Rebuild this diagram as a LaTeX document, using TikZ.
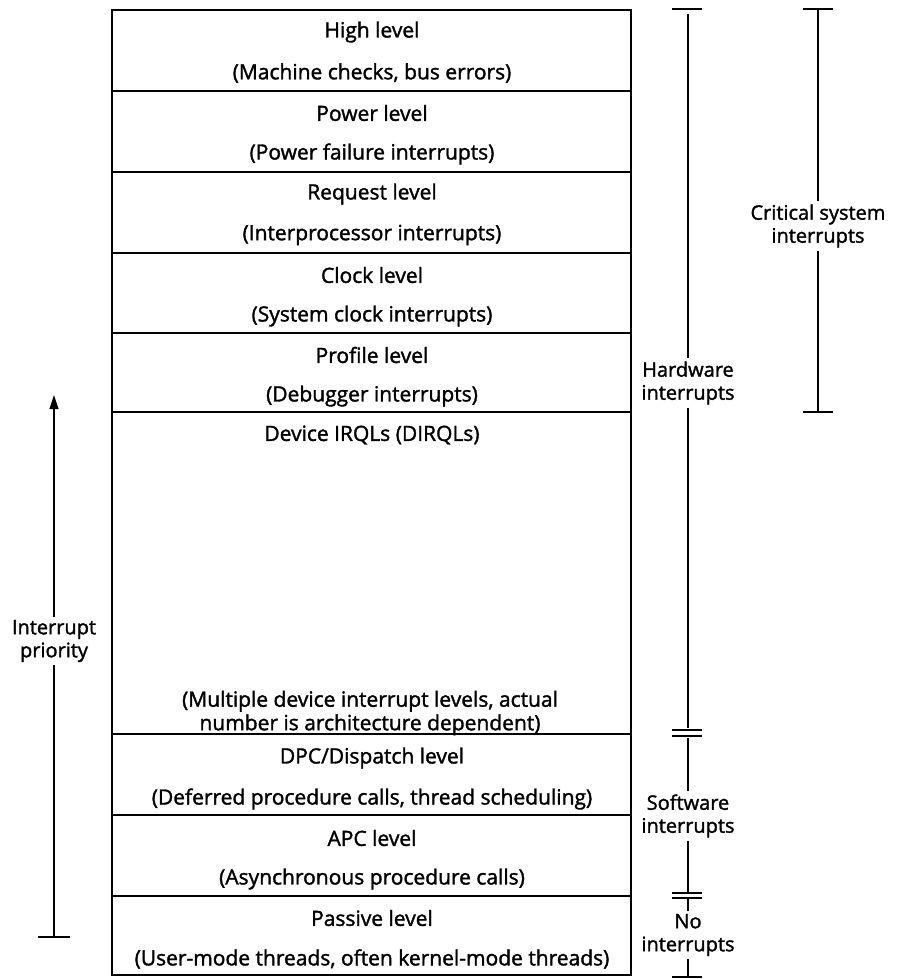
\documentclass[tikz,border=0pt]{standalone}
\usepackage{fontspec}
\setmainfont{Open Sans}
\newfontfamily\lblfont{Open Sans}[FakeBold=1.6]
\usetikzlibrary{arrows.meta}

\tikzset{
  lvltext/.style={font=\lblfont\fontsize{21}{23.5}\selectfont, inner sep=0pt},
  sidetext/.style={font=\lblfont\fontsize{20}{23}\selectfont, align=center, inner sep=3pt},
  boxline/.style={line width=1.6pt},
  barline/.style={line width=1.2pt},
}

\begin{document}
\begin{tikzpicture}[x=1pt,y=-1pt]
\useasboundingbox (0,0) rectangle (897,979);

% ===== Khung cac muc =====
\draw[boxline] (112,10) rectangle (631,975);
\foreach \y in {91,172,253,333,412,734,815,896} {
    \draw[boxline] (112,\y) -- (631,\y);
}

% ===== Ten muc =====
\node[lvltext] (high)   at (372,32)  {High level};
\node[lvltext] (highd)  at (372,73)  {(Machine checks, bus errors)};

\node[lvltext] (power)  at (372,113) {Power level};
\node[lvltext] (powerd) at (372,154) {(Power failure interrupts)};

\node[lvltext] (req)    at (372,194) {Request level};
\node[lvltext] (reqd)   at (372,235) {(Interprocessor interrupts)};

\node[lvltext] (clock)  at (372,275) {Clock level};
\node[lvltext] (clockd) at (372,316) {(System clock interrupts)};

\node[lvltext] (prof)   at (372,355) {Profile level};
\node[lvltext] (profd)  at (372,396) {(Debugger interrupts)};

\node[lvltext] (dev)    at (372,435) {Device IRQLs (DIRQLs)};
\node[lvltext, align=center] (devd) at (370,713)
    {(Multiple device interrupt levels, actual\\number is architecture dependent)};

\node[lvltext] (dpc)    at (372,758) {DPC/Dispatch level};
\node[lvltext] (dpcd)   at (372,799) {(Deferred procedure calls, thread scheduling)};

\node[lvltext] (apc)    at (372,838) {APC level};
\node[lvltext] (apcd)   at (372,879) {(Asynchronous procedure calls)};

\node[lvltext] (pass)   at (372,918) {Passive level};
\node[lvltext] (passd)  at (372,959) {(User-mode threads, often kernel-mode threads)};

% ===== Nhan ben phai =====
\node[sidetext] (hw)   at (688,383) {Hardware\\interrupts};
\node[sidetext] (crit) at (818,226) {Critical system\\interrupts};
\node[sidetext] (sw)   at (688,816) {Software\\interrupts};
\node[sidetext] (none) at (688,935) {No\\interrupts};

\coordinate (hwtop)   at (688,14);
\coordinate (hwbot)   at (688,728);
\coordinate (swtop)   at (688,738);
\coordinate (swbot)   at (688,892);
\coordinate (notop)   at (688,899);
\coordinate (nobot)   at (688,977);
\coordinate (crtop)   at (818,9);
\coordinate (crbot)   at (818,412);

% vach ngang
\draw[barline] (672,9) -- (702,9);
\draw[barline] (672,730) -- (702,730);
\draw[barline] (672,736) -- (702,736);
\draw[barline] (672,893) -- (702,893);
\draw[barline] (672,898) -- (702,898);
\draw[barline] (672,977) -- (702,977);
\draw[barline] (803,9) -- (833,9);
\draw[barline] (803,412) -- (833,412);

% vach doc
\draw[barline] (hwtop) -- (hw.north);
\draw[barline] (hw.south) -- (hwbot);
\draw[barline] (swtop) -- (sw.north);
\draw[barline] (sw.south) -- (swbot);
\draw[barline] (notop) -- (none.north);
\draw[barline] (none.south) -- (nobot);
\draw[barline] (crtop) -- (crit.north);
\draw[barline] (crit.south) -- (crbot);

% ===== Mui ten ben trai =====
\node[sidetext] (prio) at (54,641) {Interrupt\\priority};
\coordinate (prtop) at (54,395);
\coordinate (prbot) at (54,937);
\draw[barline, -{Triangle[length=14pt,width=9pt]}] (prio.north) -- (prtop);
\draw[barline] (prio.south) -- (prbot);
\draw[barline] (38,937) -- (70,937);

\end{tikzpicture}
\end{document}
